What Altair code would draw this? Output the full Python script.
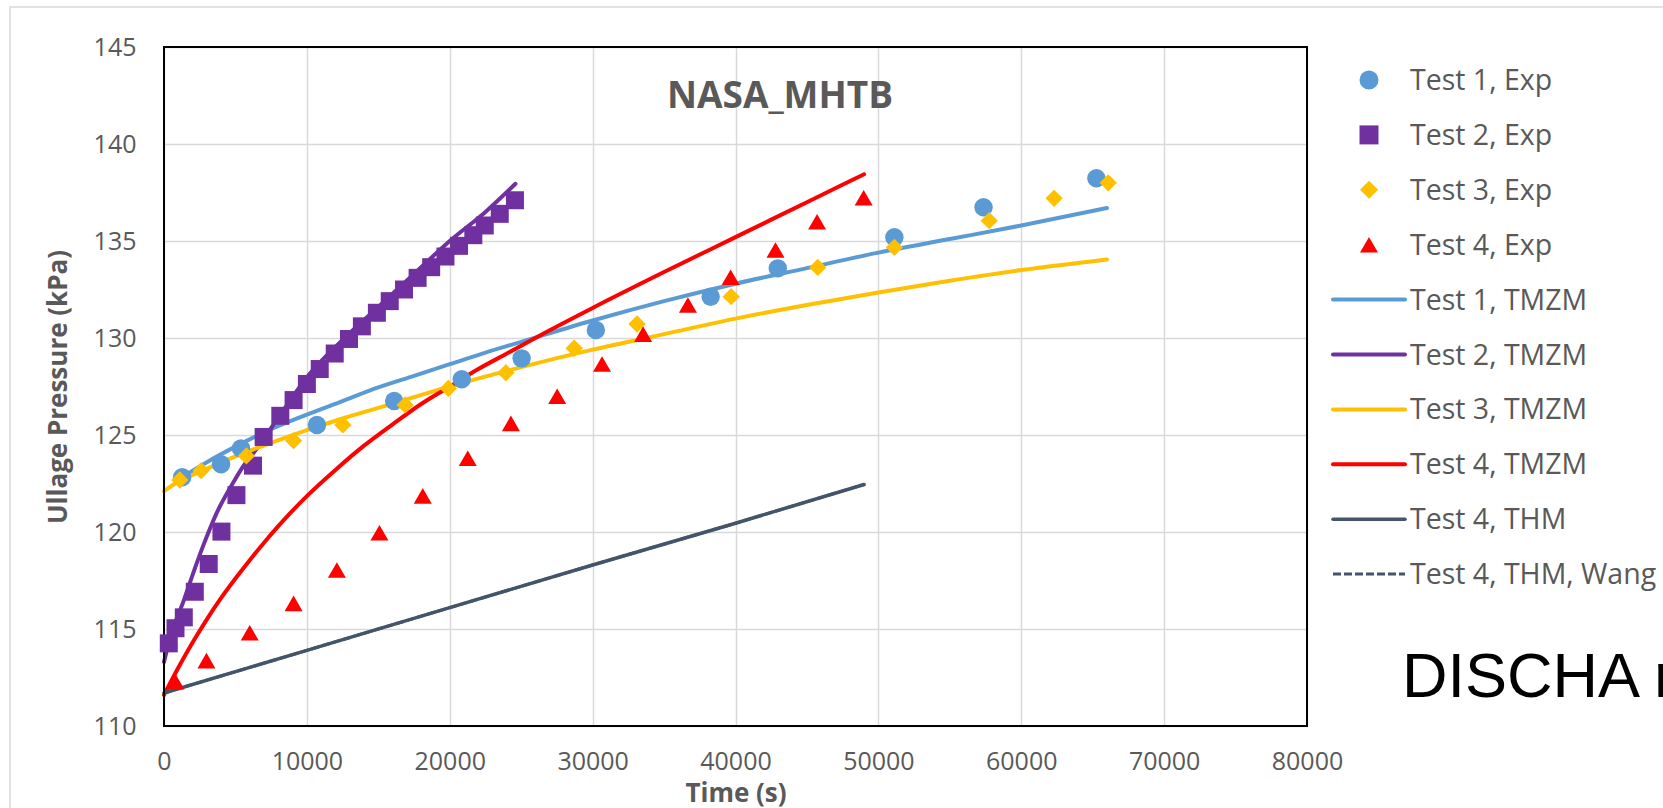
import altair as alt
import pandas as pd

# ---------------- data ----------------
t1_exp_t = [1270, 3995, 5390, 10705, 16110, 20840, 25030, 30225, 38260, 42960, 51120, 57360, 65260]
t1_exp_p = [122.82, 123.49, 124.31, 125.52, 126.75, 127.87, 128.95, 130.41, 132.13, 133.59, 135.19, 136.74, 138.23]

t2_exp_t = [335, 805, 1385, 2155, 3130, 4020, 5070, 6230, 6975, 8140, 9070, 10000, 10900, 11950,
            12950, 13850, 14900, 15800, 16800, 17750, 18700, 19700, 20650, 21650, 22450, 23500, 24563]
t2_exp_p = [114.26, 115.04, 115.6, 116.92, 118.35, 120.02, 121.9, 123.42, 124.9, 125.99, 126.8, 127.63,
            128.4, 129.2, 129.95, 130.6, 131.3, 131.9, 132.5, 133.1, 133.65, 134.2, 134.75,
            135.3, 135.8, 136.4, 137.1]

t3_exp_t = [1106, 2600, 5765, 9070, 12520, 16880, 19900, 23930, 28710, 33110, 39700, 45760, 51120,
            57760, 62300, 66090]
t3_exp_p = [122.68, 123.16, 123.92, 124.71, 125.52, 126.55, 127.4, 128.21, 129.47, 130.72, 132.13,
            133.64, 134.67, 136.05, 137.2, 138.0]

t4_exp_t = [805, 2970, 6000, 9070, 12100, 15080, 18110, 21260, 24280, 27520, 30660, 33530, 36670,
            39660, 42800, 45710, 48970]
t4_exp_p = [112.28, 113.37, 114.81, 116.32, 118.04, 119.96, 121.86, 123.8, 125.6, 127.0, 128.66,
            130.2, 131.7, 133.13, 134.54, 135.99, 137.23]

t1_tmzm_t = [1000, 3000, 5000, 7500, 10000, 12500, 15000, 17500, 20000, 22500, 25000, 30000, 35000,
             40000, 45000, 50000, 55000, 60000, 66000]
t1_tmzm_p = [122.7, 123.6, 124.4, 125.3, 126.05, 126.75, 127.45, 128.05, 128.65, 129.25, 129.8, 130.9,
             131.9, 132.8, 133.6, 134.4, 135.1, 135.8, 136.7]

t2_tmzm_t = [0, 450, 1400, 2100, 2800, 3700, 4650, 5600, 6500, 8000, 10200, 12500, 15000, 17500,
             20000, 22500, 24600]
t2_tmzm_p = [113.3, 114.6, 116.5, 118.0, 119.4, 121.0, 122.3, 123.45, 124.3, 125.9, 128.15, 129.9,
             131.6, 133.3, 135.0, 136.5, 137.95]

t3_tmzm_t = [0, 1000, 2500, 5000, 7500, 10000, 12500, 15000, 17500, 20000, 25000, 30000, 35000,
             40000, 45000, 50000, 55000, 60000, 66000]
t3_tmzm_p = [122.1, 122.6, 123.1, 123.9, 124.6, 125.25, 125.85, 126.4, 126.95, 127.5, 128.5, 129.4,
             130.2, 131.0, 131.7, 132.35, 132.95, 133.5, 134.05]

t4_tmzm_t = [0, 1000, 2000, 3000, 4000, 5000, 6000, 7000, 8000, 9000, 10000, 12000, 14000, 16000,
             18000, 20000, 22000, 24000, 27000, 30000, 35000, 40000, 45000, 49000]
t4_tmzm_p = [111.6, 113.0, 114.3, 115.5, 116.6, 117.6, 118.55, 119.45, 120.3, 121.1, 121.85, 123.2,
             124.45, 125.55, 126.6, 127.5, 128.4, 129.2, 130.4, 131.55, 133.4, 135.2, 137.0, 138.44]

t4_thm_t = [0, 10000, 20000, 30000, 40000, 49000]
t4_thm_p = [111.7, 113.9, 116.1, 118.3, 120.45, 122.45]

t4_wang_t = [0, 10000, 20000, 30000, 40000, 49000]
t4_wang_p = [111.7, 113.9, 116.1, 118.3, 120.45, 122.45]

legend_labels = ["Test 1, Exp", "Test 2, Exp", "Test 3, Exp", "Test 4, Exp",
                 "Test 1, TMZM", "Test 2, TMZM", "Test 3, TMZM", "Test 4, TMZM",
                 "Test 4, THM", "Test 4, THM, Wang"]

x_ticks = list(range(0, 80001, 10000))
y_ticks = list(range(110, 146, 5))

# ---------------- styling ----------------
BLUE, PURPLE, YELLOW, RED, GREY = "#5B9BD5", "#7030A0", "#FFC000", "#FF0000", "#44546A"
TXT = "#595959"
FONT = "Open Sans"
W, H = 1143, 679
PL, PT = 164, 47
LW = 4

x_scale = alt.Scale(domain=[0, 80000], nice=False, zero=False)
y_scale = alt.Scale(domain=[110, 145], nice=False, zero=False)

x_axis = alt.Axis(values=x_ticks, format="d", title="Time (s)", grid=True, ticks=False, domain=False,
                  labelFontSize=25, labelFont=FONT, labelColor=TXT, labelPadding=23,
                  labelFlush=False, labelOverlap=False,
                  gridColor="#D9D9D9", gridWidth=1.5,
                  titleFont=FONT, titleFontSize=26, titleFontWeight="bold", titleColor=TXT,
                  titleY=75, titleBaseline="alphabetic")
y_axis = alt.Axis(values=y_ticks, title="Ullage Pressure (kPa)", grid=True, ticks=False, domain=False,
                  labelFontSize=25, labelFont=FONT, labelColor=TXT, labelPadding=28,
                  labelOverlap=False,
                  gridColor="#D9D9D9", gridWidth=1.5,
                  titleFont=FONT, titleFontSize=26, titleFontWeight="bold", titleColor=TXT,
                  titleX=-98, titleY=H / 2, titleAngle=270, titleBaseline="alphabetic",
                  titleAlign="center")

X = alt.X("t:Q", scale=x_scale, axis=x_axis)
Y = alt.Y("p:Q", scale=y_scale, axis=y_axis)

one = pd.DataFrame({"k": [0]})


def df(t, p):
    return pd.DataFrame({"t": t, "p": p})


def line(t, p, color, width=LW, dash=None, interp="monotone"):
    kw = dict(color=color, strokeWidth=width, interpolate=interp, strokeCap="round")
    if dash:
        kw["strokeDash"] = dash
        kw["strokeCap"] = "butt"
    return alt.Chart(df(t, p)).mark_line(**kw).encode(x=X, y=Y)


def pts(t, p, shape, color, size):
    return alt.Chart(df(t, p)).mark_point(shape=shape, filled=True, opacity=1, size=size,
                                          color=color, strokeWidth=0).encode(x=X, y=Y)


frame = alt.Chart(one).mark_rect(fill="white", fillOpacity=0, stroke="#D9D9D9", strokeWidth=1.5).encode(
    x=alt.value(10 - PL), x2=alt.value(2000), y=alt.value(7 - PT), y2=alt.value(2000))

border = alt.Chart(one).mark_rect(fill="white", fillOpacity=0, stroke="black", strokeWidth=2).encode(
    x=alt.value(0), x2=alt.value(W), y=alt.value(0), y2=alt.value(H))

lines = [
    line(t1_tmzm_t, t1_tmzm_p, BLUE),
    line(t2_tmzm_t, t2_tmzm_p, PURPLE),
    line(t3_tmzm_t, t3_tmzm_p, YELLOW),
    line(t4_tmzm_t, t4_tmzm_p, RED),
    line(t4_thm_t, t4_thm_p, GREY, 3.5, interp="linear"),
    line(t4_wang_t, t4_wang_p, GREY, 3, [8, 3], interp="linear"),
]
markers = [
    pts(t1_exp_t, t1_exp_p, "circle", BLUE, 340),
    pts(t2_exp_t, t2_exp_p, "square", PURPLE, 324),
    pts(t3_exp_t, t3_exp_p, "diamond", YELLOW, 300),
    pts(t4_exp_t, t4_exp_p, "triangle-up", RED, 324),
]

title = alt.Chart(one).mark_text(text="NASA_MHTB", font=FONT, fontSize=37, fontWeight="bold",
                                 color=TXT, align="center", baseline="alphabetic").encode(
    x=alt.value(780 - PL), y=alt.value(108 - PT))

discha = alt.Chart(one).mark_text(text="DISCHA results", font="Liberation Sans", fontSize=63,
                                  color="black", align="left", baseline="alphabetic").encode(
    x=alt.value(1402 - PL), y=alt.value(697 - PT))

# ---------------- legend ----------------
leg = []
row0, step = 80 - PT, 54.9
sym_x = 1369 - PL
line_x1, line_x2 = 1333 - PL, 1405 - PL
text_x = 1410 - PL
leg_marks = [("circle", BLUE, 361), ("square", PURPLE, 361), ("diamond", YELLOW, 324),
             ("triangle-up", RED, 324)]
leg_lines = [(BLUE, None, LW), (PURPLE, None, LW), (YELLOW, None, LW), (RED, None, LW),
             (GREY, None, 3.5), (GREY, [8, 3], 3)]
for i, lab in enumerate(legend_labels):
    yc = row0 + i * step
    if i < 4:
        shp, col, sz = leg_marks[i]
        leg.append(alt.Chart(one).mark_point(shape=shp, filled=True, opacity=1, size=sz, color=col,
                                             strokeWidth=0).encode(x=alt.value(sym_x), y=alt.value(yc)))
    else:
        col, dash, wd = leg_lines[i - 4]
        kw = dict(color=col, strokeWidth=wd)
        if dash:
            kw["strokeDash"] = dash
        else:
            kw["strokeCap"] = "round"
        leg.append(alt.Chart(one).mark_rule(**kw).encode(
            x=alt.value(line_x1), x2=alt.value(line_x2), y=alt.value(yc)))
    leg.append(alt.Chart(one).mark_text(text=lab, font=FONT, fontSize=28.5, color=TXT, align="left",
                                        baseline="alphabetic").encode(
        x=alt.value(text_x), y=alt.value(yc + 10)))

chart = alt.layer(frame, *lines, border, *markers, title, discha, *leg).properties(
    width=W, height=H,
    autosize=alt.AutoSizeParams(type="none"),
    padding={"left": PL, "top": PT, "right": 1663 - PL - W, "bottom": 808 - PT - H},
    background="white",
).configure_view(stroke="transparent")

chart.save("out.html", embed_options={"renderer": "svg", "actions": False})
